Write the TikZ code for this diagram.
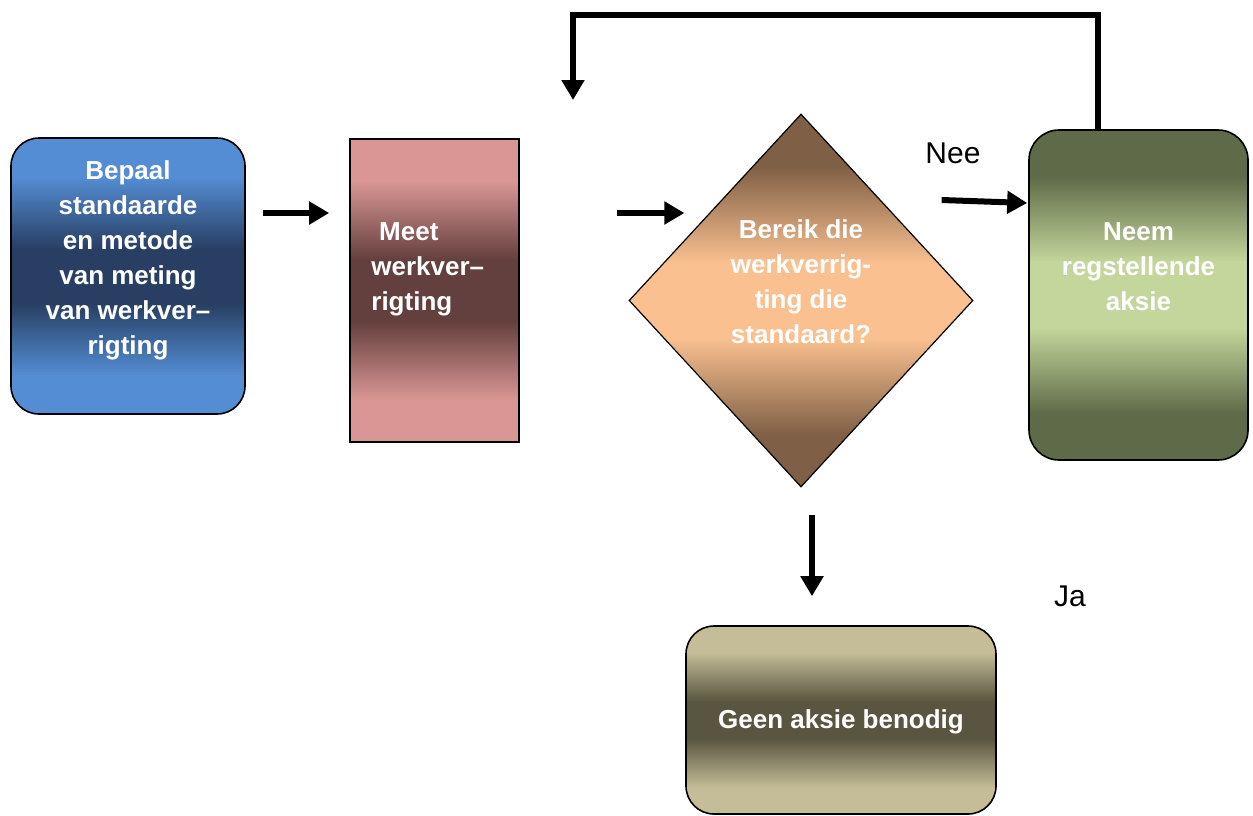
\documentclass[tikz,border=0pt]{standalone}
\usepackage{fontspec}
\setmainfont{Liberation Sans}
\usetikzlibrary{arrows.meta,shapes.geometric}
\definecolor{blueLight}{HTML}{548DD4}
\definecolor{blueDark}{HTML}{283F63}
\definecolor{roseLight}{HTML}{D99694}
\definecolor{roseDark}{HTML}{633F3D}
\definecolor{copperDark}{HTML}{7F5F45}
\definecolor{copperLight}{HTML}{FAC090}
\definecolor{oliveDark}{HTML}{5F6A48}
\definecolor{oliveLight}{HTML}{C3D69B}
\definecolor{sandLight}{HTML}{C4BD97}
\definecolor{sandDark}{HTML}{5A5540}
% the filled shape covers 25bp..75bp of the shading
\pgfdeclareverticalshading[edgec,midc]{band}{100bp}{color(0bp)=(edgec); color(32bp)=(edgec);
  color(45bp)=(midc); color(55bp)=(midc); color(68bp)=(edgec); color(100bp)=(edgec)}
\begin{document}
\begin{tikzpicture}[x=1pt,y=-1pt,line join=miter,
  flowarrow/.style={line width=6pt,-{Triangle[length=20pt,width=22pt]}},
  stage/.style={draw=black,line width=1.6pt,inner sep=0pt},
  banded/.style 2 args={/utils/exec={\colorlet{edgec}{#1}\colorlet{midc}{#2}},shading=band},
  boxtext/.style={text=white,font=\fontsize{26}{35}\selectfont\bfseries,align=center,inner sep=0pt},
  answer/.style={font=\fontsize{30}{36}\selectfont,inner sep=0pt}]
\useasboundingbox(0,0)rectangle(1253,815);
% stages
\node[stage,rounded corners=28pt,minimum width=234pt,minimum height=276pt,
  banded={blueLight}{blueDark}](boxA)at(128,276){};
\node[stage,minimum width=169pt,minimum height=303pt,
  banded={roseLight}{roseDark}](boxB)at(434.5,290.5){};
\node[stage,shape=diamond,line width=1.2pt,minimum width=344pt,minimum height=373pt,
  banded={copperDark}{copperLight}](check)at(801,300.5){};
\node[stage,rounded corners=30pt,minimum width=219pt,minimum height=330pt,
  banded={oliveDark}{oliveLight}](boxD)at(1138.5,295){};
\node[stage,rounded corners=28pt,minimum width=310pt,minimum height=188pt,
  banded={sandLight}{sandDark}](boxE)at(841,720){};
% texts
\node[boxtext](textA)at([yshift=15.5pt]boxA.center){Bepaal\\standaarde\\en metode\\van meting\\van werkver–\\rigting};
\node[boxtext,align=left,anchor=west](textB)at([xshift=22pt,yshift=21.5pt]boxB.west){\hspace{0.3em}Meet\\werkver–\\rigting};
\node[boxtext](textC)at([yshift=19pt]check.center){Bereik die\\werkverrig-\\ting die\\standaard?};
\node[boxtext](textD)at([yshift=28pt]boxD.center){Neem\\regstellende\\aksie};
\node[boxtext](textE)at([yshift=-2pt]boxE.center){Geen aksie benodig};
\node[answer](nee)at(953,153){Nee};
\node[answer](ja)at(1070,596){Ja};
% arrows
\draw[flowarrow]([xshift=17pt,yshift=63pt]boxA.east)--([xshift=-20pt,yshift=77.5pt]boxB.west);
\draw[flowarrow]([xshift=97pt,yshift=77.5pt]boxB.east)--([xshift=56pt,yshift=87.5pt]check.west);
\draw[flowarrow]([xshift=-32pt,yshift=100.5pt]check.east)--([xshift=-1pt,yshift=92pt]boxD.west);
\draw[flowarrow]([xshift=11pt,yshift=-27.5pt]check.south)--([xshift=-29pt,yshift=29pt]boxE.north);
\coordinate(looptop)at(573,15);
\coordinate(loopend)at(573,100);
\draw[flowarrow]([xshift=-40.5pt]boxD.north)|-(looptop)--(loopend);
\end{tikzpicture}
\end{document}
